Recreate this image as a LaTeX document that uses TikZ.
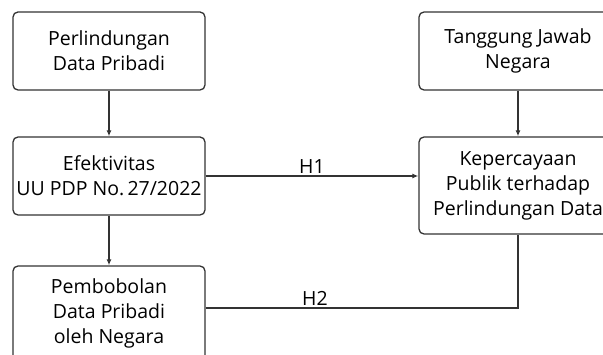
\documentclass[tikz,border=0pt]{standalone}
\usepackage{fontspec}
\setmainfont{Open Sans}
\usepackage{xcolor}
\usetikzlibrary{arrows.meta, positioning, calc}

\definecolor{linegray}{HTML}{333333}

\begin{document}
\begin{tikzpicture}[
    x=1pt, y=-1pt,
    % Node styles
    box/.style={rectangle, rounded corners=5pt, draw=linegray, line width=1.3pt, minimum width=192pt, minimum height=78pt, text centered, align=center, font=\fontsize{19.5}{25}\selectfont, text=black},
    widebox/.style={box, minimum width=198pt},
    hlabel/.style={font=\fontsize{19.5}{22}\selectfont, text=black, inner sep=2pt},
    arrow/.style={-{Latex[length=6pt, width=5pt]}, line width=1.3pt, draw=linegray},
    link/.style={line width=1.3pt, draw=linegray}
]

% Frame of the picture
\useasboundingbox (0,0) rectangle (603,355);
\clip (0,0) rectangle (603,355);

% Left column
\node[box] (pdp) at (109, 51) {Perlindungan\\Data Pribadi};
\node[box] (uupdp) at (109, 176) {Efektivitas\\UU PDP No.\,27/2022};
\node[box, minimum height=94pt] (bobol) at (109, 313) {Pembobolan\\Data Pribadi\\oleh Negara};

% Right column
\node[widebox] (tanggung) at (518, 51) {Tanggung Jawab\\Negara};
\node[widebox, minimum height=97pt] (publik) at (518, 185.5) {Kepercayaan\\Publik terhadap\\Perlindungan Data};

% Arrows
\draw[arrow] (pdp.south) -- (uupdp.north);
\draw[arrow] (uupdp.south) -- (bobol.north);
\draw[arrow] (tanggung.south) -- (publik.north);

% Hypotheses
\draw[arrow] (uupdp.east) -- node[hlabel, above] {H1} (uupdp.east -| publik.west);
\draw[link] ([yshift=5pt]bobol.east) -- node[hlabel, pos=0.35, above] {H2} ([yshift=5pt]bobol.east -| publik.south) -- (publik.south);

\end{tikzpicture}
\end{document}
